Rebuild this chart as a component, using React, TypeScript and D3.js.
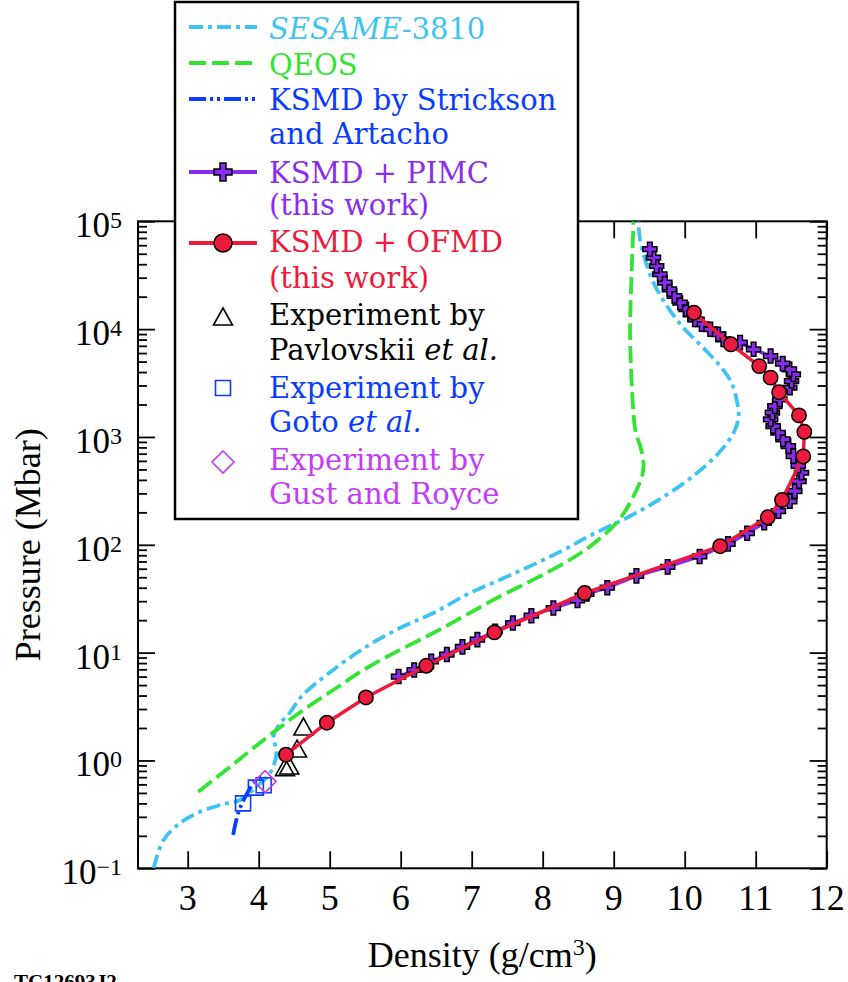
import React, { useEffect, useRef } from 'react';
import * as d3 from 'd3';

// density (g/cm3) and pressure (Mbar)
const sesameRho = [2.52, 2.66, 2.89, 3.13, 3.46, 3.74, 3.97, 4.16, 4.25, 4.21, 4.30, 4.44, 4.60, 5.02, 5.52, 5.99, 6.46, 6.93, 7.40, 7.87, 8.30, 8.67, 9.20, 9.67, 10.14, 10.47, 10.69, 10.76, 10.73, 10.66, 10.50, 10.26, 9.98, 9.75, 9.56, 9.44, 9.37, 9.35];
const sesameP = [0.10, 0.183, 0.262, 0.324, 0.387, 0.43, 0.573, 0.762, 1.17, 1.7, 2.2, 2.78, 3.9, 6.7, 11.4, 16.9, 23.3, 34.5, 47.5, 65.5, 90, 122, 180, 270, 445, 700, 1094, 1560, 2230, 3180, 4540, 6730, 10300, 16400, 27000, 44500, 68300, 100000];

const qeosRho = [3.15, 3.60, 4.07, 4.55, 5.05, 5.52, 5.99, 6.46, 6.93, 7.40, 7.87, 8.34, 8.67, 9.04, 9.23, 9.40, 9.42, 9.38, 9.31, 9.27, 9.24, 9.23, 9.25, 9.28];
const qeosP = [0.514, 0.877, 1.55, 2.7, 4.5, 7.2, 10.6, 15.2, 22.5, 33.3, 47.5, 70, 97, 160, 245, 433, 560, 800, 1100, 2000, 5000, 10000, 30000, 100000];

const ksmdRho = [3.64, 3.71, 3.81, 3.95, 4.06];
const ksmdP = [0.204, 0.324, 0.46, 0.64, 0.71];

const pimcRho = [5.97, 6.19, 6.43, 6.65, 6.87, 7.08, 7.33, 7.58, 7.84, 8.15, 8.49, 8.62, 8.91, 9.32, 9.76, 10.21, 10.61, 10.88, 11.12, 11.32, 11.48, 11.55, 11.61, 11.645, 11.60, 11.53, 11.46, 11.385, 11.315, 11.245, 11.21, 11.235, 11.27, 11.34, 11.48, 11.505, 11.53, 11.475, 11.38, 11.21, 10.97, 10.78, 10.545, 10.47, 10.36, 10.24, 10.145, 10.08, 10.02, 9.935, 9.855, 9.785, 9.72, 9.65, 9.605, 9.56, 9.51];
const pimcP = [6.0, 6.9, 8.3, 9.6, 11.3, 13.2, 15.8, 18.8, 22.0, 25.9, 30.5, 35, 40, 51.5, 62.4, 78, 102, 128, 160, 205, 253, 314, 389, 466, 540, 664, 822, 948, 1094, 1260, 1455, 1680, 1930, 2230, 2860, 3300, 3800, 4240, 4790, 5630, 6500, 7500, 8040, 8960, 9980, 11100, 12300, 13700, 15300, 17600, 20300, 23400, 27000, 32300, 38500, 46100, 55100];

const ofmdRho = [4.385, 4.96, 5.51, 6.36, 7.32, 8.59, 10.50, 11.17, 11.37, 11.67, 11.685, 11.61, 11.33, 11.21, 11.05, 10.65, 10.13];
const ofmdP = [1.13, 2.24, 3.84, 7.55, 15.4, 35.7, 97, 180, 261, 660, 1117, 1585, 2600, 3550, 4540, 7230, 14200];

const pavRho = [4.37, 4.43, 4.54, 4.63];
const pavP = [0.84, 0.87, 1.25, 2.0];
const gotoRho = [3.78, 3.96, 4.07];
const gotoP = [0.40, 0.56, 0.59];
const gustRho = [4.09];
const gustP = [0.637];

const xTicks = [3, 4, 5, 6, 7, 8, 9, 10, 11, 12];
const yExps = [-1, 0, 1, 2, 3, 4, 5];

const W = 848, H = 982;
const C = {
  sesame: '#3ec3f3',
  qeos: '#33e433',
  ksmd: '#0a3cff',
  pimc: '#8a2cf0',
  ofmd: '#ec1a3c',
  goto: '#0a3cff',
  gust: '#c23df5',
};

const AX = '"Liberation Serif", "Times New Roman", serif';
const LG = '"DejaVu Serif", serif';

const zip = (a, b) => a.map((v, i) => [v, b[i]]);

export default function App() {
  const ref = useRef(null);

  useEffect(() => {
    const svg = d3.select(ref.current);
    svg.selectAll('*').remove();

    const L = 138, R = 826.7, T = 221.3, B = 868.3;
    const x = d3.scaleLinear().domain([2.3, 12]).range([L, R]);
    const y = d3.scaleLog().domain([0.1, 1e5]).range([B, T]);

    svg.append('rect').attr('width', W).attr('height', H).attr('fill', '#fff');

    svg.append('clipPath').attr('id', 'plotclip')
      .append('rect').attr('x', L).attr('y', T).attr('width', R - L).attr('height', B - T);

    // ticks (inward)
    const minor = [];
    for (let e = -1; e < 5; e++) for (let k = 2; k <= 9; k++) minor.push(k * Math.pow(10, e));
    const majors = yExps.map(e => Math.pow(10, e));
    const addAxis = (ax, tr) => {
      const g = svg.append('g').attr('transform', tr).call(ax);
      g.select('.domain').remove();
      g.selectAll('text').remove();
      g.selectAll('line').attr('stroke', '#000').attr('stroke-width', 1.8);
    };
    addAxis(d3.axisBottom(x).tickValues(xTicks).tickSize(-17), `translate(0,${B})`);
    addAxis(d3.axisTop(x).tickValues(xTicks).tickSize(-17), `translate(0,${T})`);
    addAxis(d3.axisLeft(y).tickValues(majors).tickSize(-17), `translate(${L},0)`);
    addAxis(d3.axisLeft(y).tickValues(minor).tickSize(-9), `translate(${L},0)`);
    addAxis(d3.axisRight(y).tickValues(majors).tickSize(-17), `translate(${R},0)`);
    addAxis(d3.axisRight(y).tickValues(minor).tickSize(-9), `translate(${R},0)`);

    // frame
    svg.append('rect').attr('x', L).attr('y', T).attr('width', R - L).attr('height', B - T)
      .attr('fill', 'none').attr('stroke', '#000').attr('stroke-width', 2);

    // tick labels
    svg.append('g').selectAll('text').data(xTicks).join('text')
      .attr('x', d => x(d)).attr('y', 910).attr('text-anchor', 'middle')
      .attr('font-family', AX).attr('font-size', 36).text(d => d);

    const yl = svg.append('g').selectAll('text').data(yExps).join('text')
      .attr('x', 122).attr('y', d => y(Math.pow(10, d)) + 16).attr('text-anchor', 'end')
      .attr('font-family', AX).attr('font-size', 35);
    yl.append('tspan').text('10');
    yl.append('tspan').attr('font-size', 24).attr('dy', -9).text(d => (d < 0 ? '\u2212' + -d : String(d)));

    const xt = svg.append('text').attr('x', (L + R) / 2).attr('y', 967).attr('text-anchor', 'middle')
      .attr('font-family', AX).attr('font-size', 36);
    xt.append('tspan').text('Density (g/cm');
    xt.append('tspan').attr('font-size', 24).attr('dy', -12).text('3');
    xt.append('tspan').attr('dy', 12).text(')');

    svg.append('text').attr('transform', `translate(40,${(T + B) / 2}) rotate(-90)`)
      .attr('text-anchor', 'middle').attr('font-family', AX).attr('font-size', 36)
      .text('Pressure (Mbar)');

    svg.append('text').attr('x', 14).attr('y', 989).attr('font-family', AX)
      .attr('font-size', 21).attr('font-weight', 'bold').text('TC12693J2');

    // curves
    const plot = svg.append('g').attr('clip-path', 'url(#plotclip)');
    const smooth = d3.line().x(d => x(d[0])).y(d => y(d[1])).curve(d3.curveCatmullRom.alpha(0.5));
    const straight = d3.line().x(d => x(d[0])).y(d => y(d[1]));

    plot.append('path').attr('d', smooth(zip(sesameRho, sesameP))).attr('fill', 'none')
      .attr('stroke', C.sesame).attr('stroke-width', 3.8).attr('stroke-dasharray', '14,5,4,5');
    plot.append('path').attr('d', smooth(zip(qeosRho, qeosP))).attr('fill', 'none')
      .attr('stroke', C.qeos).attr('stroke-width', 3.8).attr('stroke-dasharray', '17,6');
    plot.append('path').attr('d', smooth(zip(ksmdRho, ksmdP))).attr('fill', 'none')
      .attr('stroke', C.ksmd).attr('stroke-width', 3.8).attr('stroke-dasharray', '17,4,3,4,3,4');

    // experiments
    const tri = 'M0,-10L9.5,7L-9.5,7Z';
    const sq = 'M-7.5,-7.5H7.5V7.5H-7.5Z';
    const dia = 'M0,-11L11,0L0,11L-11,0Z';
    plot.append('g').selectAll('path').data(zip(gotoRho, gotoP)).join('path')
      .attr('d', sq).attr('transform', d => `translate(${x(d[0])},${y(d[1])})`)
      .attr('fill', 'none').attr('stroke', C.goto).attr('stroke-width', 1.6);
    plot.append('g').selectAll('path').data(zip(gustRho, gustP)).join('path')
      .attr('d', dia).attr('transform', d => `translate(${x(d[0])},${y(d[1])})`)
      .attr('fill', 'none').attr('stroke', C.gust).attr('stroke-width', 1.6);
    plot.append('g').selectAll('path').data(zip(pavRho, pavP)).join('path')
      .attr('d', tri).attr('transform', d => `translate(${x(d[0])},${y(d[1])})`)
      .attr('fill', 'none').attr('stroke', '#000').attr('stroke-width', 1.6);

    const cross = d3.symbol(d3.symbolCross, 110)();
    const crossL = d3.symbol(d3.symbolCross, 180)();

    plot.append('path').attr('d', straight(zip(pimcRho, pimcP))).attr('fill', 'none')
      .attr('stroke', C.pimc).attr('stroke-width', 3.5);
    plot.append('g').selectAll('path').data(zip(pimcRho, pimcP)).join('path')
      .attr('d', cross).attr('transform', d => `translate(${x(d[0])},${y(d[1])})`)
      .attr('fill', C.pimc).attr('stroke', '#000').attr('stroke-width', 1.5);

    plot.append('path').attr('d', straight(zip(ofmdRho, ofmdP))).attr('fill', 'none')
      .attr('stroke', C.ofmd).attr('stroke-width', 3.5);
    plot.append('g').selectAll('circle').data(zip(ofmdRho, ofmdP)).join('circle')
      .attr('cx', d => x(d[0])).attr('cy', d => y(d[1])).attr('r', 7.2)
      .attr('fill', C.ofmd).attr('stroke', '#000').attr('stroke-width', 1.5);

    // legend
    svg.append('rect').attr('x', 175).attr('y', 2).attr('width', 403).attr('height', 517)
      .attr('fill', '#fff').attr('stroke', '#000').attr('stroke-width', 2.5);

    const rows = [
      { y: 27, color: C.sesame, kind: 'line', dash: '14,5,4,5', lines: [[['SESAME', true], ['-3810', false]]], base: [39] },
      { y: 63, color: C.qeos, kind: 'line', dash: '17,6', lines: [[['QEOS', false]]], base: [75] },
      { y: 99, color: C.ksmd, kind: 'line', dash: '17,4,3,4,3,4', lines: [[['KSMD by Strickson', false]], [['and Artacho', false]]], base: [110, 144] },
      { y: 172, color: C.pimc, kind: 'cross', lines: [[['KSMD + PIMC', false]], [['(this work)', false]]], base: [183, 215] },
      { y: 243, color: C.ofmd, kind: 'circle', lines: [[['KSMD + OFMD', false]], [['(this work)', false]]], base: [252, 288] },
      { y: 318, color: '#000', kind: 'tri', lines: [[['Experiment by', false]], [['Pavlovskii ', false], ['et al.', true]]], base: [325, 360] },
      { y: 388, color: C.goto, kind: 'sq', lines: [[['Experiment by', false]], [['Goto ', false], ['et al.', true]]], base: [398, 432] },
      { y: 462, color: C.gust, kind: 'dia', lines: [[['Experiment by', false]], [['Gust and Royce', false]]], base: [470, 504] },
    ];
    const lg = svg.append('g');
    rows.forEach(r => {
      const cx = 223;
      if (r.kind === 'line' || r.kind === 'cross' || r.kind === 'circle') {
        lg.append('line').attr('x1', 189).attr('x2', 257).attr('y1', r.y).attr('y2', r.y)
          .attr('stroke', r.color).attr('stroke-width', 3.8)
          .attr('stroke-dasharray', r.dash || null);
      }
      if (r.kind === 'cross') {
        lg.append('path').attr('d', crossL).attr('transform', `translate(${cx},${r.y})`)
          .attr('fill', r.color).attr('stroke', '#000').attr('stroke-width', 1.5);
      }
      if (r.kind === 'circle') {
        lg.append('circle').attr('cx', cx).attr('cy', r.y).attr('r', 9)
          .attr('fill', r.color).attr('stroke', '#000').attr('stroke-width', 1.5);
      }
      if (r.kind === 'tri' || r.kind === 'sq' || r.kind === 'dia') {
        const d = r.kind === 'tri' ? tri : r.kind === 'sq' ? sq : dia;
        lg.append('path').attr('d', d).attr('transform', `translate(${cx},${r.y})`)
          .attr('fill', 'none').attr('stroke', r.color).attr('stroke-width', 1.6);
      }
      r.lines.forEach((parts, i) => {
        const t = lg.append('text').attr('x', 269).attr('y', r.base[i])
          .attr('font-family', LG).attr('font-size', 29).attr('fill', r.color);
        parts.forEach(([s, it]) => t.append('tspan').attr('font-style', it ? 'italic' : 'normal').text(s));
      });
    });
  }, []);

  return (
    <svg ref={ref} width={W} height={H}
      style={{ position: 'absolute', left: 0, top: 0, display: 'block' }} />
  );
}
